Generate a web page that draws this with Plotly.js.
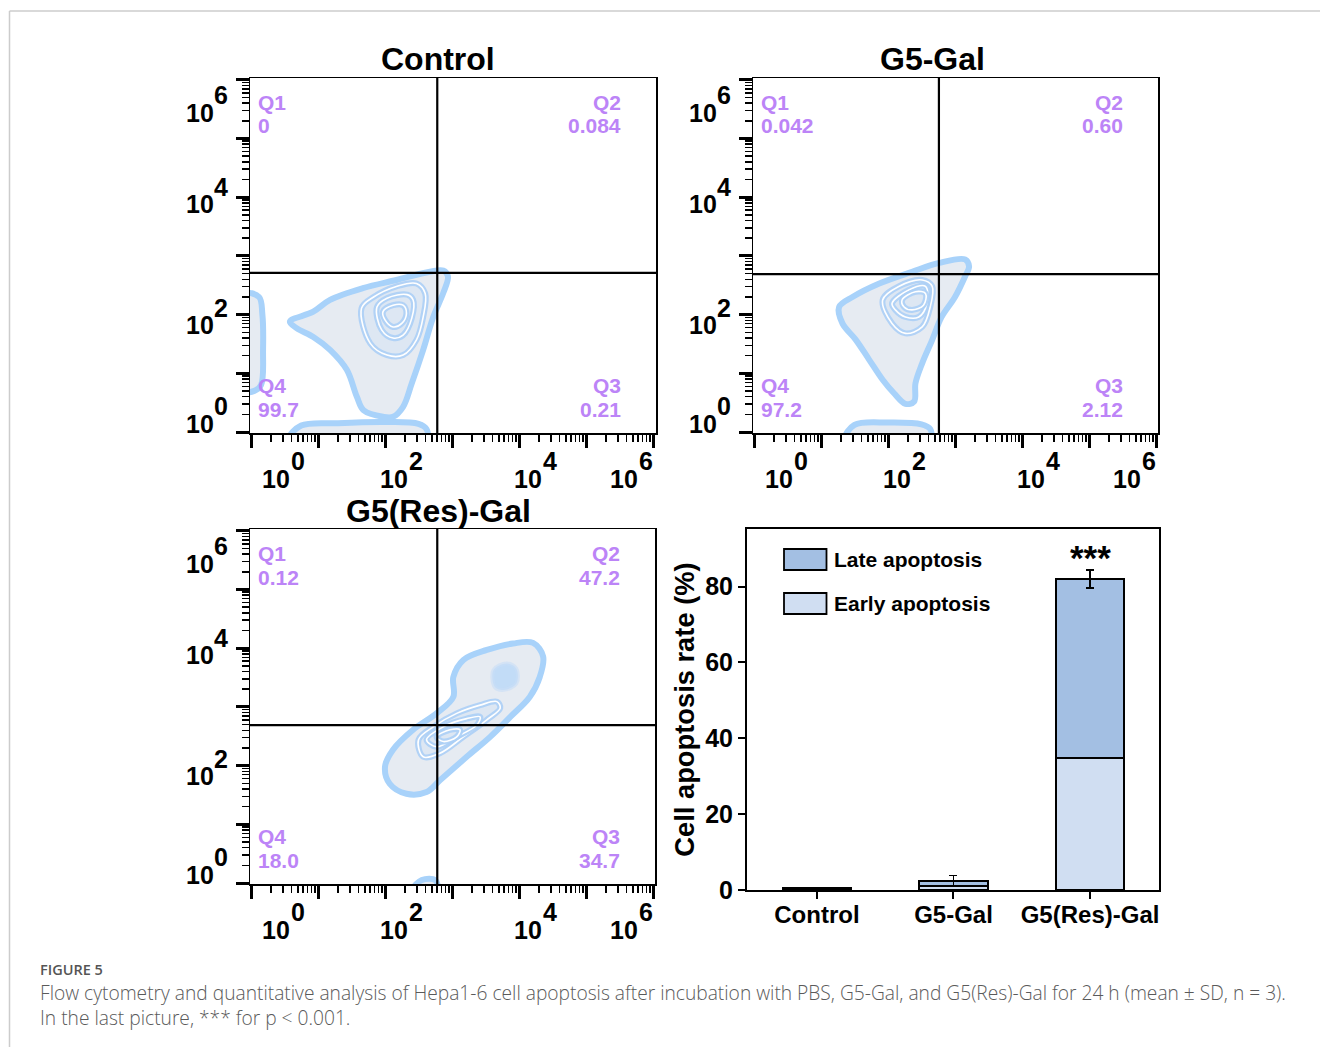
<!DOCTYPE html>
<html>
<head>
<meta charset="utf-8">
<script src="https://cdn.plot.ly/plotly-3.0.1.min.js"></script>
<style>
  html, body { margin: 0; padding: 0; background: #fff; }
  #chart { width: 1320px; height: 1047px; }
</style>
</head>
<body>
<div id="chart"></div>
<script>
// ---------------- DATA ----------------
const panelTitles = ['Control', 'G5-Gal', 'G5(Res)-Gal'];
const quadNames = ['Q1', 'Q2', 'Q3', 'Q4'];
const quadValues = [
  ['0', '0.084', '0.21', '99.7'],
  ['0.042', '0.60', '2.12', '97.2'],
  ['0.12', '47.2', '34.7', '18.0']
];
// quadrant gates (decades, display units)
const gateX = [2.78, 2.76, 2.78];
const gateY = [2.71, 2.69, 2.69];
const decadeTicks = [0, 1, 2, 3, 4, 5, 6];
const tickBase = '10';
const tickExps = ['0', '2', '4', '6'];

// contour outlines (display decades)
const ctrlMainX = [0.58,0.93,1.18,1.67,2.17,2.67,2.87,2.94,2.87,2.72,2.57,2.40,2.27,2.12,1.97,1.68,1.58,1.43,1.18,0.93,0.68,0.58];
const ctrlMainY = [1.88,2.05,2.25,2.45,2.59,2.73,2.75,2.65,2.37,1.96,1.40,0.83,0.43,0.26,0.26,0.37,0.60,1.06,1.40,1.62,1.77,1.88];
const ctrlEdgeX = [-0.1,0.12,0.17,0.18,0.15,0.05,-0.1,-0.1];
const ctrlEdgeY = [2.35,2.30,2.00,1.40,0.80,0.70,0.70,2.35];
const ctrlBottomX = [0.58,0.75,1.30,2.00,2.50,2.62,2.62,0.58];
const ctrlBottomY = [-0.1,0.11,0.15,0.17,0.14,0.05,-0.1,-0.1];
const ctrlL2X = [1.65,1.83,2.17,2.47,2.60,2.57,2.47,2.27,2.03,1.78,1.65];
const ctrlL2Y = [2.11,2.30,2.48,2.53,2.36,1.96,1.57,1.31,1.31,1.51,2.11];
const ctrlL3X = [1.88,2.03,2.33,2.42,2.40,2.27,2.12,1.95,1.88];
const ctrlL3Y = [2.13,2.28,2.34,2.25,1.94,1.65,1.60,1.74,2.13];
const ctrlL4X = [1.97,2.12,2.27,2.32,2.25,2.12,2.00,1.97];
const ctrlL4Y = [2.05,2.16,2.16,2.02,1.85,1.79,1.91,2.05];

const galMainX = [1.27,1.47,1.87,2.36,2.76,3.15,3.21,3.15,3.00,2.80,2.66,2.51,2.41,2.39,2.26,2.09,1.92,1.72,1.52,1.32,1.27];
const galMainY = [2.13,2.30,2.53,2.73,2.88,2.94,2.82,2.65,2.30,1.96,1.57,1.17,0.83,0.52,0.48,0.66,0.89,1.23,1.57,1.85,2.13];
const galBottomX = [1.37,1.50,2.00,2.50,2.63,2.63,1.37];
const galBottomY = [-0.1,0.12,0.16,0.13,0.05,-0.1,-0.1];
const galL2X = [1.92,2.16,2.51,2.66,2.63,2.51,2.26,2.06,1.92];
const galL2Y = [2.25,2.48,2.59,2.48,2.13,1.79,1.68,1.85,2.25];
const galL3X = [2.06,2.31,2.56,2.58,2.46,2.26,2.11,2.06];
const galL3Y = [2.19,2.42,2.48,2.19,1.96,1.96,2.08,2.19];
const galL4X = [2.21,2.41,2.56,2.53,2.36,2.24,2.21];
const galL4Y = [2.25,2.39,2.36,2.16,2.08,2.13,2.25];

const resMainX = [2.00,2.12,2.42,2.77,3.02,3.02,3.17,3.52,3.91,4.21,4.36,4.31,4.16,3.87,3.57,3.22,2.82,2.62,2.32,2.07,2.00];
const resMainY = [1.98,2.27,2.61,2.89,3.17,3.51,3.80,3.97,4.08,4.09,3.86,3.51,3.17,2.83,2.49,2.15,1.75,1.55,1.52,1.69,1.98];
const resBottomX = [2.42,2.55,2.75,2.78,2.42];
const resBottomY = [-0.1,0.05,0.05,-0.1,-0.1];
const resL2X = [2.50,2.72,3.07,3.42,3.67,3.72,3.52,3.17,2.82,2.57,2.50];
const resL2Y = [2.44,2.66,2.89,3.03,3.09,2.98,2.78,2.49,2.21,2.15,2.44];
const resL3X = [2.62,2.87,3.22,3.42,3.37,3.07,2.77,2.62];
const resL3Y = [2.44,2.66,2.80,2.83,2.69,2.49,2.32,2.44];
const resL4X = [2.77,2.97,3.12,3.07,2.87,2.77];
const resL4Y = [2.49,2.61,2.61,2.49,2.41,2.49];
const resSpotX = [3.62,3.82,3.96,3.96,3.77,3.64,3.62];
const resSpotY = [3.63,3.74,3.65,3.40,3.29,3.34,3.63];

// bar chart
const groups = ['Control', 'G5-Gal', 'G5(Res)-Gal'];
const earlyApoptosis = [0.25, 1.05, 34.8];
const lateApoptosis = [0.20, 1.40, 47.2];
const totalSD = [0.20, 1.35, 2.4];
const seriesNames = ['Late apoptosis', 'Early apoptosis'];
const barTicks = [0, 20, 40, 60, 80];
const sigLabel = '***';

// ---------------- LAYOUT HELPERS ----------------
const W = 1320, H = 1047;
const fx = v => v / W;
const fy = v => 1 - v / H;
const FONT = 'Liberation Sans, Arial, Helvetica, sans-serif';
const PURPLE = '#BC84F7';
const SX = 67, SY = 58.7;
const flowPanels = [
  { box: [250, 656, 78, 433], L: 251, B: 432, title: [438, 59] },
  { box: [753, 1158, 78, 433], L: 754, B: 432, title: [932, 59] },
  { box: [250, 655, 529, 884], L: 251, B: 883, title: [438, 511] }
];
const barBox = [747, 1159, 529, 890];

const minorVals = [];
for (let k = 0; k < 6; k++) for (let m = 2; m <= 9; m++) minorVals.push(k + Math.log10(m));

const traces = [];
const shapes = [];
const annotations = [];
const layout = {
  width: W, height: H,
  margin: { l: 0, r: 0, t: 0, b: 0 },
  paper_bgcolor: '#fff', plot_bgcolor: '#fff',
  showlegend: false,
  font: { family: FONT, color: '#000' }
};

function blob(xa, ya, xs, ys, kind) {
  const base = { x: xs, y: ys, xaxis: xa, yaxis: ya, type: 'scatter', mode: 'lines',
    fill: 'toself', hoverinfo: 'skip', line: { shape: 'spline', smoothing: 1 } };
  if (kind === 'outer') {
    traces.push(Object.assign({}, base, { fillcolor: '#E6EBF2', line: { shape: 'spline', smoothing: 1, color: '#A8D2FA', width: 6 } }));
  } else if (kind === 'level') {
    traces.push(Object.assign({}, base, { fillcolor: '#DDE7F3', line: { shape: 'spline', smoothing: 1, color: 'rgba(172,207,246,0.9)', width: 6 } }));
    traces.push(Object.assign({}, base, { fill: 'none', line: { shape: 'spline', smoothing: 1, color: '#ffffff', width: 1.6 } }));
  } else if (kind === 'spot') {
    traces.push(Object.assign({}, base, { fillcolor: 'rgba(190,218,247,0.9)', line: { shape: 'spline', smoothing: 1, color: 'rgba(200,222,246,0.6)', width: 4 } }));
  }
}

// panel blobs
blob('x', 'y', ctrlEdgeX, ctrlEdgeY, 'outer');
blob('x', 'y', ctrlBottomX, ctrlBottomY, 'outer');
blob('x', 'y', ctrlMainX, ctrlMainY, 'outer');
blob('x', 'y', ctrlL2X, ctrlL2Y, 'level');
blob('x', 'y', ctrlL3X, ctrlL3Y, 'level');
blob('x', 'y', ctrlL4X, ctrlL4Y, 'level');

blob('x2', 'y2', galBottomX, galBottomY, 'outer');
blob('x2', 'y2', galMainX, galMainY, 'outer');
blob('x2', 'y2', galL2X, galL2Y, 'level');
blob('x2', 'y2', galL3X, galL3Y, 'level');
blob('x2', 'y2', galL4X, galL4Y, 'level');

blob('x3', 'y3', resBottomX, resBottomY, 'outer');
blob('x3', 'y3', resMainX, resMainY, 'outer');
blob('x3', 'y3', resSpotX, resSpotY, 'spot');
blob('x3', 'y3', resL2X, resL2Y, 'level');
blob('x3', 'y3', resL3X, resL3Y, 'level');
blob('x3', 'y3', resL4X, resL4Y, 'level');

const xLabelPos = [0.37, 2.14, 4.14, 5.57];
const yLabelPos = [0.14, 1.82, 3.88, 5.44];

flowPanels.forEach((p, i) => {
  const [l, r, t, b] = p.box;
  const sfx = i === 0 ? '' : String(i + 1);
  const common = {
    showgrid: false, zeroline: false, showline: true, linecolor: '#000', linewidth: 1.5, mirror: true,
    tickmode: 'array', tickvals: decadeTicks, ticks: 'outside', ticklen: 13, tickwidth: 3, tickcolor: '#000',
    showticklabels: false, fixedrange: true,
    minor: { tickmode: 'array', tickvals: minorVals, ticks: 'outside', ticklen: 7, tickwidth: 1.5, tickcolor: '#000', showgrid: false }
  };
  layout['xaxis' + sfx] = Object.assign({}, common, {
    domain: [fx(l), fx(r)], anchor: 'y' + sfx,
    range: [(l - p.L) / SX, (r - p.L) / SX]
  });
  layout['yaxis' + sfx] = Object.assign({}, common, {
    domain: [fy(b), fy(t)], anchor: 'x' + sfx,
    range: [(p.B - b) / SY, (p.B - t) / SY]
  });
  // quadrant gates
  shapes.push({ type: 'line', xref: 'x' + sfx, yref: 'y' + sfx + ' domain', x0: gateX[i], x1: gateX[i], y0: 0, y1: 1,
    line: { color: '#000', width: 2.2 }, layer: 'above' });
  shapes.push({ type: 'line', yref: 'y' + sfx, xref: 'x' + sfx + ' domain', y0: gateY[i], y1: gateY[i], x0: 0, x1: 1,
    line: { color: '#000', width: 2.2 }, layer: 'above' });
  // panel title
  annotations.push({ text: panelTitles[i], xref: 'paper', yref: 'paper', x: fx(p.title[0]), y: fy(p.title[1]),
    xanchor: 'center', yanchor: 'middle', showarrow: false, font: { size: 32, weight: 700, family: FONT, color: '#000' } });
  // tick labels (10 + exponent)
  const tf = { size: 25, weight: 700, family: FONT, color: '#000' };
  tickExps.forEach((e, k) => {
    const cx = p.L + xLabelPos[k] * SX;
    annotations.push({ text: tickBase, xref: 'paper', yref: 'paper', x: fx(cx), y: fy(p.B + 47), xanchor: 'center', yanchor: 'middle', showarrow: false, font: tf });
    annotations.push({ text: e, xref: 'paper', yref: 'paper', x: fx(cx + 13), y: fy(p.B + 29), xanchor: 'left', yanchor: 'middle', showarrow: false, font: tf });
    const cy = p.B - yLabelPos[k] * SY;
    annotations.push({ text: tickBase, xref: 'paper', yref: 'paper', x: fx(p.L - 35), y: fy(cy), xanchor: 'right', yanchor: 'middle', showarrow: false, font: tf });
    annotations.push({ text: e, xref: 'paper', yref: 'paper', x: fx(p.L - 39), y: fy(cy - 17.5), xanchor: 'left', yanchor: 'middle', showarrow: false, font: tf });
  });
  // quadrant labels
  const qf = { size: 21, weight: 700, family: FONT, color: PURPLE };
  const qpos = [
    { x: l + 6, top: true, anchor: 'left' },
    { x: r - 33, top: true, anchor: 'right' },
    { x: r - 33, top: false, anchor: 'right' },
    { x: l + 6, top: false, anchor: 'left' }
  ];
  qpos.forEach((q, k) => {
    const y1 = q.top ? t + 24 : b - 48;
    const y2 = q.top ? t + 48 : b - 24;
    annotations.push({ text: quadNames[k], xref: 'paper', yref: 'paper', x: fx(q.x), y: fy(y1), xanchor: q.anchor, yanchor: 'middle', showarrow: false, font: qf });
    annotations.push({ text: quadValues[i][k], xref: 'paper', yref: 'paper', x: fx(q.x), y: fy(y2), xanchor: q.anchor, yanchor: 'middle', showarrow: false, font: qf });
  });
});

// ---------------- BAR CHART ----------------
const EARLY_COL = '#D0DEF2', LATE_COL = '#A3BFE3';
traces.push({
  type: 'bar', name: seriesNames[1], x: groups, y: earlyApoptosis, xaxis: 'x4', yaxis: 'y4', width: 0.5,
  marker: { color: EARLY_COL, line: { color: '#000', width: 1.8 } }, hoverinfo: 'skip'
});
traces.push({
  type: 'bar', name: seriesNames[0], x: groups, y: lateApoptosis, xaxis: 'x4', yaxis: 'y4', width: 0.5,
  marker: { color: LATE_COL, line: { color: '#000', width: 1.8 } }, hoverinfo: 'skip',
  error_y: { type: 'data', array: totalSD, visible: true, color: '#000', thickness: 1.6, width: 4 }
});
layout.barmode = 'stack';
layout.xaxis4 = {
  domain: [fx(barBox[0]), fx(barBox[1])], anchor: 'y4', type: 'category', range: [-0.512, 2.505],
  showline: true, linecolor: '#000', linewidth: 2, mirror: true, showgrid: false, zeroline: false,
  ticks: 'outside', ticklen: 7, tickwidth: 2, tickcolor: '#000', fixedrange: true, ticklabelstandoff: -5,
  tickfont: { size: 24, weight: 700, family: FONT, color: '#000' }
};
layout.yaxis4 = {
  domain: [fy(barBox[3]), fy(barBox[2])], anchor: 'x4', range: [0, 95.2],
  tickmode: 'array', tickvals: barTicks,
  showline: true, linecolor: '#000', linewidth: 2, mirror: true, showgrid: false, zeroline: false,
  ticks: 'outside', ticklen: 7, tickwidth: 2, tickcolor: '#000', fixedrange: true,
  tickfont: { size: 25, weight: 700, family: FONT, color: '#000' },
  title: { text: 'Cell apoptosis rate (%)', standoff: 3, font: { size: 27.3, weight: 700, family: FONT, color: '#000' } }
};
// significance
annotations.push({ text: sigLabel, xref: 'x4', yref: 'y4', x: 2, y: 87.6, xanchor: 'center', yanchor: 'middle', showarrow: false,
  font: { size: 35, weight: 700, family: FONT, color: '#000' } });
// legend (drawn)
const legendItems = [{ name: seriesNames[0], col: LATE_COL, top: 549 }, { name: seriesNames[1], col: EARLY_COL, top: 593 }];
legendItems.forEach(it => {
  shapes.push({ type: 'rect', xref: 'paper', yref: 'paper', x0: fx(784), x1: fx(826.5), y0: fy(it.top), y1: fy(it.top + 21),
    fillcolor: it.col, line: { color: '#000', width: 1.8 } });
  annotations.push({ text: it.name, xref: 'paper', yref: 'paper', x: fx(832), y: fy(it.top + 10), xanchor: 'left', yanchor: 'middle',
    showarrow: false, font: { size: 21, weight: 700, family: FONT, color: '#000' } });
});

// ---------------- PAGE FRAME & CAPTION ----------------
shapes.push({ type: 'line', xref: 'paper', yref: 'paper', x0: fx(9.5), x1: 1, y0: fy(11), y1: fy(11), line: { color: '#cccccc', width: 1.5 } });
shapes.push({ type: 'line', xref: 'paper', yref: 'paper', x0: fx(9.5), x1: fx(9.5), y0: fy(11), y1: 0, line: { color: '#cccccc', width: 1.5 } });
const CAP_FONT = 'Open Sans, Lato, sans-serif';
annotations.push({ text: 'FIGURE 5', xref: 'paper', yref: 'paper', x: fx(38), y: fy(969), xanchor: 'left', yanchor: 'middle', showarrow: false,
  font: { size: 14.5, weight: 600, family: CAP_FONT, color: '#555' } });
annotations.push({ text: 'Flow cytometry and quantitative analysis of Hepa1-6 cell apoptosis after incubation with PBS, G5-Gal, and G5(Res)-Gal for 24 h (mean ± SD, n = 3).<br>In the last picture, *** for p < 0.001.',
  xref: 'paper', yref: 'paper', x: fx(38), y: fy(1004.5), xanchor: 'left', yanchor: 'middle', align: 'left', showarrow: false,
  font: { size: 19.2, weight: 300, family: CAP_FONT, color: '#5a5a5a' } });

layout.shapes = shapes;
layout.annotations = annotations;

Plotly.newPlot('chart', traces, layout, { staticPlot: true, displayModeBar: false });
</script>
</body>
</html>
